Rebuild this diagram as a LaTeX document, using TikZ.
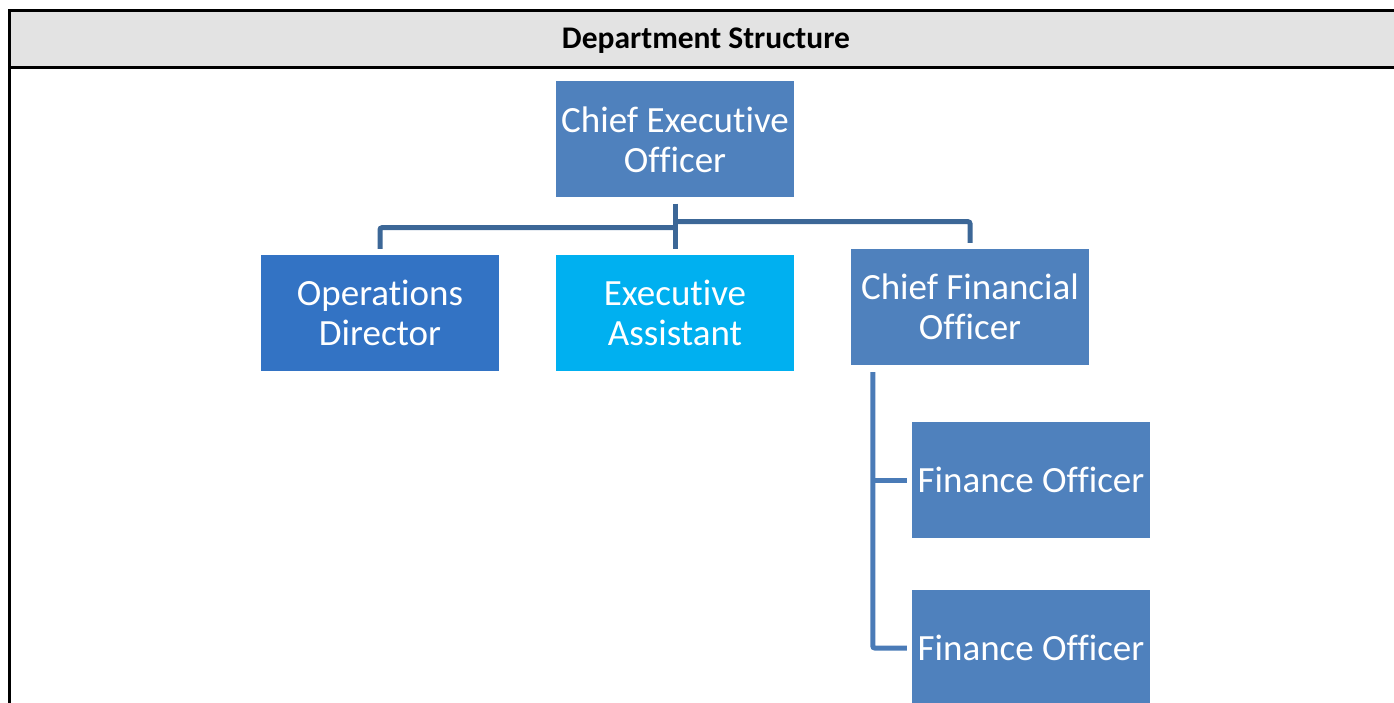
\documentclass[tikz,border=0pt]{standalone}
\usepackage{fontspec}
\setmainfont{Carlito}[Ligatures=NoCommon]
\usetikzlibrary{calc}
\definecolor{headgray}{HTML}{E3E3E3}
\definecolor{boxblue}{HTML}{4F81BD}
\definecolor{opsblue}{HTML}{3373C4}
\definecolor{cyanbox}{HTML}{00B0F0}
\definecolor{linkdark}{HTML}{3C6797}
\definecolor{linkmid}{HTML}{4A7BB7}
\tikzset{
  orgbox/.style={rectangle, draw=none, minimum width=238pt, minimum height=116pt,
    inner sep=0pt, text=white, align=center,
    font=\fontsize{37}{40}\selectfont},
  toplink/.style={draw=linkdark, line width=5pt, rounded corners=2pt},
  sublink/.style={draw=linkmid, line width=5pt, rounded corners=2pt},
  frameline/.style={draw=black, line width=3pt}
}
\begin{document}
\begin{tikzpicture}[x=1pt, y=-1pt]
\useasboundingbox (0,0) rectangle (1394,703);
\begin{scope}
\clip (0,0) rectangle (1394,703);
% table frame with shaded header row
\fill[headgray] (9,11) rectangle (1410,68);
\draw[frameline] (1410,11) -- (9,11) -- (9,720);
\draw[frameline] (9,68) -- (1410,68);
\node[font=\fontsize{31.5}{36}\selectfont\bfseries] (title) at (706,41) {Department Structure};

% organisation boxes
\node[orgbox, fill=boxblue]  (ceo) at (675,139.5) {Chief Executive\\Officer};
\node[orgbox, fill=opsblue]  (od)  at (380,313)   {Operations\\Director};
\node[orgbox, fill=cyanbox]  (ea)  at (675,313)   {Executive\\Assistant};
\node[orgbox, fill=boxblue]  (cfo) at (970,307)   {Chief Financial\\Officer};
\node[orgbox, fill=boxblue]  (fo1) at (1031,480)  {Finance Officer};
\node[orgbox, fill=boxblue]  (fo2) at (1031,648)  {Finance Officer};

% links from the chief executive
\draw[toplink] ([yshift=-6pt]ceo.south) -- ([yshift=6pt]ea.north);
\draw[toplink] ($(ceo.south)+(0,30)$) -| ([yshift=6pt]od.north);
\draw[toplink] ($(ceo.south)+(0,24)$) -| ([yshift=6pt]cfo.north);

% links from the chief financial officer
\coordinate (trunk) at ($(cfo.south west)+(22,7)$);
\draw[sublink] (trunk) |- ([xshift=-5pt]fo2.west);
\draw[sublink] (trunk |- fo1.west) -- ([xshift=-5pt]fo1.west);
\end{scope}
\end{tikzpicture}
\end{document}
